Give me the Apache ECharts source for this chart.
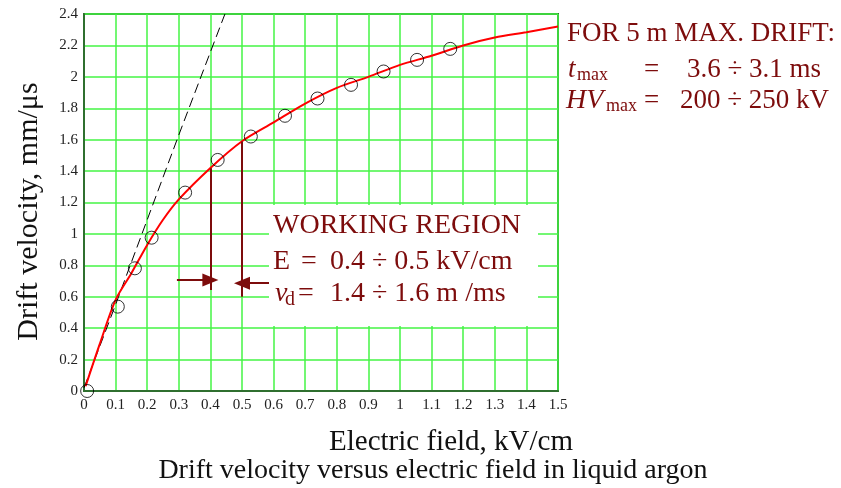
<!DOCTYPE html>
<html>
<head>
<meta charset="utf-8">
<script src="https://cdn.jsdelivr.net/npm/echarts@6/dist/echarts.min.js"></script>
<style>
  html, body { margin: 0; padding: 0; background: #fff; }
  #chart { width: 841px; height: 488px; }
</style>
</head>
<body>
<div id="chart"></div>
<script>
// measured points (kV/cm, mm/us)
const measuredE = [0.01, 0.107, 0.161, 0.214, 0.32, 0.423, 0.528, 0.636, 0.739, 0.845, 0.948, 1.054, 1.159];
const measuredV = [0.0, 0.537, 0.781, 0.976, 1.263, 1.471, 1.62, 1.752, 1.862, 1.949, 2.034, 2.108, 2.178];

// fitted curve (red)
const fitE = [0.005, 0.05, 0.1, 0.15, 0.2, 0.25, 0.3, 0.4, 0.5, 0.6, 0.7, 0.8, 0.9, 1.0, 1.1, 1.2, 1.3, 1.4, 1.5];
const fitV = [0.03, 0.3, 0.58, 0.75, 0.93, 1.09, 1.22, 1.42, 1.59, 1.71, 1.83, 1.93, 2.0, 2.076, 2.134, 2.2, 2.25, 2.284, 2.32];

// linear low-field slope (dashed)
const linE = [0.0, 0.1, 0.2, 0.3, 0.37, 0.446];
const linV = [0.02, 0.55, 1.09, 1.63, 2.0, 2.4];

// working region markers
const regionE = [0.4, 0.5];
const regionTop = [1.418, 1.588];
const regionBottom = [0.643, 0.6];
const arrowFrom = [0.294, 0.6];
const arrowY = [0.707, 0.686];

const xTicks = { min: 0, max: 1.5, step: 0.1 };
const yTicks = { min: 0, max: 2.4, step: 0.2 };

const RED = "#7d0c0c";
const FONT = "Liberation Serif";

const zip = (a, b) => a.map((v, i) => [v, b[i]]);

const chart = echarts.init(document.getElementById("chart"));

// text helper for annotations
const txt = (text, x, y, size) => ({
  type: "text",
  x: x,
  y: y,
  z: 20,
  style: {
    text: text,
    fill: RED,
    font: size + "px '" + FONT + "'",
    textVerticalAlign: "middle",
  },
});
const itxt = (text, x, y, size) => {
  const t = txt(text, x, y, size);
  t.style.font = "italic " + size + "px '" + FONT + "'";
  return t;
};

const markData = [];
regionE.forEach((e, i) => {
  markData.push([
    { coord: [e, regionBottom[i]], symbol: "none" },
    { coord: [e, regionTop[i]], symbol: "none" },
  ]);
  markData.push([
    { coord: [arrowFrom[i], arrowY[i]], symbol: "none" },
    { coord: [e, arrowY[i]], symbol: "triangle", symbolSize: [13, 16] },
  ]);
});

chart.setOption({
  backgroundColor: "#fff",
  animation: false,
  grid: {
    left: 84,
    top: 14,
    right: 283,
    bottom: 97,
    show: true,
    borderColor: "#2f6f2f",
    borderWidth: 2,
  },
  title: [
    {
      text: "Electric field, kV/cm",
      left: 446,
      top: 423,
      textAlign: "center",
      textStyle: { fontFamily: FONT, fontWeight: "normal", fontSize: 29, color: "#111" },
    },
    {
      text: "Drift velocity versus electric field in liquid argon",
      left: 428,
      top: 452,
      textAlign: "center",
      textStyle: { fontFamily: FONT, fontWeight: "normal", fontSize: 28, color: "#111" },
    },
  ],
  xAxis: {
    type: "value",
    min: xTicks.min,
    max: xTicks.max,
    interval: xTicks.step,
    axisLine: { show: true, onZero: false, lineStyle: { color: "#2f6f2f", width: 2 } },
    axisTick: { show: false },
    axisLabel: { fontFamily: FONT, fontSize: 15, color: "#222", margin: 7 },
    splitLine: { show: true, lineStyle: { color: "#45f545", width: 1.5 } },
  },
  yAxis: {
    type: "value",
    min: yTicks.min,
    max: yTicks.max,
    interval: yTicks.step,
    name: "Drift velocity, mm/μs",
    nameLocation: "middle",
    nameGap: 40,
    nameTextStyle: { fontFamily: FONT, fontSize: 30, color: "#111", padding: [0, 18, 0, 0] },
    axisLine: { show: true, lineStyle: { color: "#2f6f2f", width: 2 } },
    axisTick: { show: false },
    axisLabel: { fontFamily: FONT, fontSize: 15, color: "#222", margin: 6 },
    splitLine: { show: true, lineStyle: { color: "#45f545", width: 1.5 } },
  },
  series: [
    {
      type: "line",
      data: zip(linE, linV),
      showSymbol: false,
      lineStyle: { color: "#000", width: 1, type: [10, 5] },
      z: 3,
    },
    {
      type: "line",
      data: zip(fitE, fitV),
      smooth: 0.3,
      showSymbol: false,
      lineStyle: { color: "#ff0000", width: 2 },
      z: 4,
    },
    {
      type: "scatter",
      data: zip(measuredE, measuredV),
      symbol: "circle",
      symbolSize: 13,
      itemStyle: { color: "rgba(0,0,0,0)", borderColor: "#000", borderWidth: 1 },
      z: 5,
    },
    {
      type: "line",
      data: [],
      markLine: {
        silent: true,
        label: { show: false },
        lineStyle: { color: RED, width: 2, type: "solid" },
        itemStyle: { color: RED },
        data: markData,
      },
      z: 6,
    },
  ],
  graphic: [
    {
      type: "rect",
      shape: { x: 269, y: 205, width: 269, height: 121 },
      style: { fill: "#fff" },
      z: 10,
    },
    txt("WORKING REGION", 273, 226, 28),
    txt("E", 273, 262, 28),
    txt("=", 301, 262, 28),
    txt("0.4 ÷ 0.5 kV/cm", 330, 262, 28),
    itxt("v", 275, 294, 28),
    txt("d", 285, 300, 20),
    txt("=", 298, 294, 28),
    txt("1.4 ÷ 1.6 m /ms", 330, 294, 28),
    txt("FOR 5 m MAX. DRIFT:", 567, 34, 27),
    itxt("t", 568, 70, 27),
    txt("max", 577, 75, 18),
    txt("=", 644, 70, 27),
    txt("3.6 ÷ 3.1 ms", 687, 70, 27),
    itxt("HV", 566, 101, 28),
    txt("max", 606, 106, 18),
    txt("=", 644, 101, 27),
    txt("200 ÷ 250 kV", 680, 101, 27),
  ],
});
</script>
</body>
</html>
